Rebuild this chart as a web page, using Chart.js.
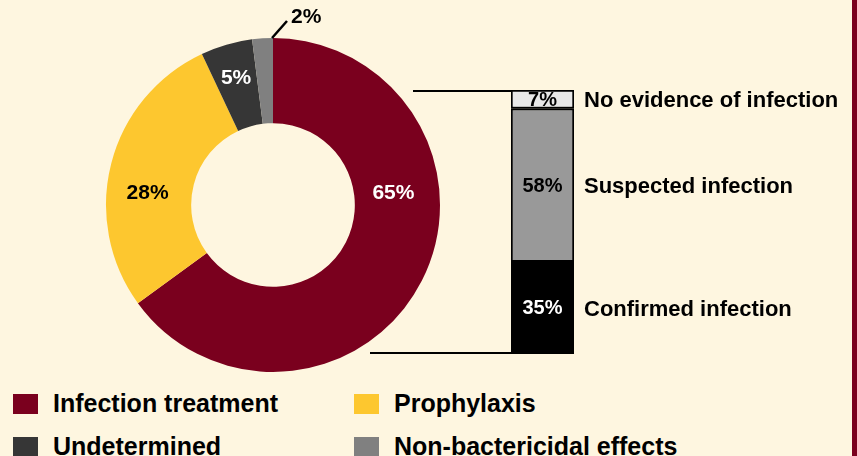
<!DOCTYPE html>
<html>
<head>
<meta charset="utf-8">
<script src="https://cdn.jsdelivr.net/npm/chart.js"></script>
<style>
    html, body { margin: 0; padding: 0; }
    body {
        width: 857px; height: 456px; overflow: hidden; position: relative;
        background: #FEF6E0;
        font-family: "Liberation Sans", Arial, sans-serif;
    }
    #edge { position: absolute; right: 0; top: 0; width: 5px; height: 456px; background: #7A001E; }
    #donut-box { position: absolute; left: 96px; top: 0px; width: 354px; height: 374px; }
    #bar-box { position: absolute; left: 370px; top: 80px; width: 480px; height: 290px; }
    .legend-item { position: absolute; display: flex; align-items: center; font-weight: bold; font-size: 25px; color: #000; white-space: nowrap; }
    .legend-item span.sw { display: inline-block; width: 25px; height: 20px; margin-right: 15px; }
</style>
</head>
<body>
<div id="edge"></div>
<div id="donut-box"><canvas id="donut-canvas"></canvas></div>
<div id="bar-box"><canvas id="bar-canvas"></canvas></div>
<div id="legend"></div>

<script>
// Data
const useLabels = ['Infection treatment', 'Prophylaxis', 'Undetermined', 'Non-bactericidal effects'];
const useValues = [65, 28, 5, 2];
const useColors = ['#7A001E', '#FDC72F', '#363636', '#808080'];
const useTextColors = ['#FFFFFF', '#000000', '#FFFFFF', '#000000'];

const infLabels = ['Confirmed infection', 'Suspected infection', 'No evidence of infection'];
const infValues = [35, 58, 7];
const infColors = ['#000000', '#999999', '#E8E8E8'];
const infTextColors = ['#FFFFFF', '#000000', '#000000'];

// Legend positions (two columns)
const legendSlots = [
    { left: 13, top: 393 },
    { left: 354, top: 393 },
    { left: 13, top: 436 },
    { left: 354, top: 436 }
];

/**
 * Draw percentage labels on the doughnut slices
 */
const donutLabels = {
    id: 'donutLabels',
    afterDatasetsDraw(chart) {
        const ctx = chart.ctx;
        const arcs = chart.getDatasetMeta(0).data;
        ctx.save();
        ctx.textBaseline = 'middle';
        arcs.forEach((arc, i) => {
            const { x, y, startAngle, endAngle, innerRadius, outerRadius } = arc.getProps(['x', 'y', 'startAngle', 'endAngle', 'innerRadius', 'outerRadius'], true);
            const text = useValues[i] + '%';
            const midR = (innerRadius + outerRadius) / 2;
            ctx.font = 'bold 21px "Liberation Sans", Arial, sans-serif';
            ctx.fillStyle = useTextColors[i];
            if (useValues[i] >= 20) {
                // big slices: label on the horizontal through the centre
                const side = i === 0 ? 1 : -1;
                ctx.textAlign = 'center';
                ctx.fillText(text, x + side * (midR + (i === 0 ? -4 : 1)), y - 12);
            } else if (useValues[i] >= 4) {
                const mid = (startAngle + endAngle) / 2;
                ctx.textAlign = 'center';
                ctx.fillText(text, x + Math.cos(mid) * (midR + 8), y + Math.sin(mid) * (midR + 8));
            } else {
                // tiny slice: leader line going out from the top
                const px = x + Math.cos(endAngle) * outerRadius;
                const py = y + Math.sin(endAngle) * outerRadius;
                ctx.strokeStyle = '#000';
                ctx.lineWidth = 2.5;
                ctx.beginPath();
                ctx.moveTo(px - 1, py);
                ctx.lineTo(px + 14, py - 17);
                ctx.stroke();
                ctx.textAlign = 'left';
                ctx.fillText(text, px + 18, py - 21);
            }
        });
        ctx.restore();
    }
};

/**
 * Draw connector lines, segment values and labels for the stacked bar
 */
const barLabels = {
    id: 'barLabels',
    afterDatasetsDraw(chart) {
        const ctx = chart.ctx;
        const area = chart.chartArea;
        ctx.save();
        // connector lines from the doughnut to the bar
        ctx.strokeStyle = '#000';
        ctx.lineWidth = 2;
        ctx.beginPath();
        ctx.moveTo(43, area.top + 1);
        ctx.lineTo(area.left, area.top + 1);
        ctx.moveTo(0, area.bottom - 1);
        ctx.lineTo(area.left, area.bottom - 1);
        ctx.stroke();

        ctx.textBaseline = 'middle';
        infValues.forEach((v, i) => {
            const bar = chart.getDatasetMeta(i).data[0];
            const cy = (bar.y + bar.base) / 2;
            ctx.textAlign = 'center';
            ctx.font = 'bold 20px "Liberation Sans", Arial, sans-serif';
            ctx.fillStyle = infTextColors[i];
            ctx.fillText(v + '%', bar.x, cy + 1);
            ctx.textAlign = 'left';
            ctx.font = 'bold 22px "Liberation Sans", Arial, sans-serif';
            ctx.fillStyle = '#000';
            ctx.fillText(infLabels[i], area.right + 10, cy + 2);
        });
        ctx.restore();
    }
};

function renderDonut() {
    const ctx = document.getElementById('donut-canvas').getContext('2d');
    new Chart(ctx, {
        type: 'doughnut',
        data: {
            labels: useLabels,
            datasets: [{
                data: useValues,
                backgroundColor: useColors,
                borderWidth: 0
            }]
        },
        options: {
            responsive: true,
            maintainAspectRatio: false,
            animation: false,
            cutout: '49%',
            layout: { padding: { left: 10, right: 10, top: 38, bottom: 2 } },
            plugins: { legend: { display: false }, tooltip: { enabled: false } }
        },
        plugins: [donutLabels]
    });
}

function renderBar() {
    const ctx = document.getElementById('bar-canvas').getContext('2d');
    new Chart(ctx, {
        type: 'bar',
        data: {
            labels: ['Infection treatment'],
            datasets: infValues.map((v, i) => ({
                label: infLabels[i],
                data: [v],
                backgroundColor: infColors[i],
                borderColor: '#000',
                borderWidth: 2,
                borderSkipped: false,
                barPercentage: 1,
                categoryPercentage: 1
            }))
        },
        options: {
            responsive: true,
            maintainAspectRatio: false,
            animation: false,
            layout: { padding: { left: 141, right: 276, top: 10, bottom: 16 } },
            scales: {
                x: { stacked: true, display: false },
                y: { stacked: true, display: false, min: 0, max: 100 }
            },
            plugins: { legend: { display: false }, tooltip: { enabled: false } }
        },
        plugins: [barLabels]
    });
}

function renderLegend() {
    const box = document.getElementById('legend');
    useLabels.forEach((label, i) => {
        const item = document.createElement('div');
        item.className = 'legend-item';
        item.style.left = legendSlots[i].left + 'px';
        item.style.top = (legendSlots[i].top - 4) + 'px';
        item.innerHTML = `<span class="sw" style="background:${useColors[i]}"></span>${label}`;
        box.appendChild(item);
    });
}

renderDonut();
renderBar();
renderLegend();
</script>
</body>
</html>
